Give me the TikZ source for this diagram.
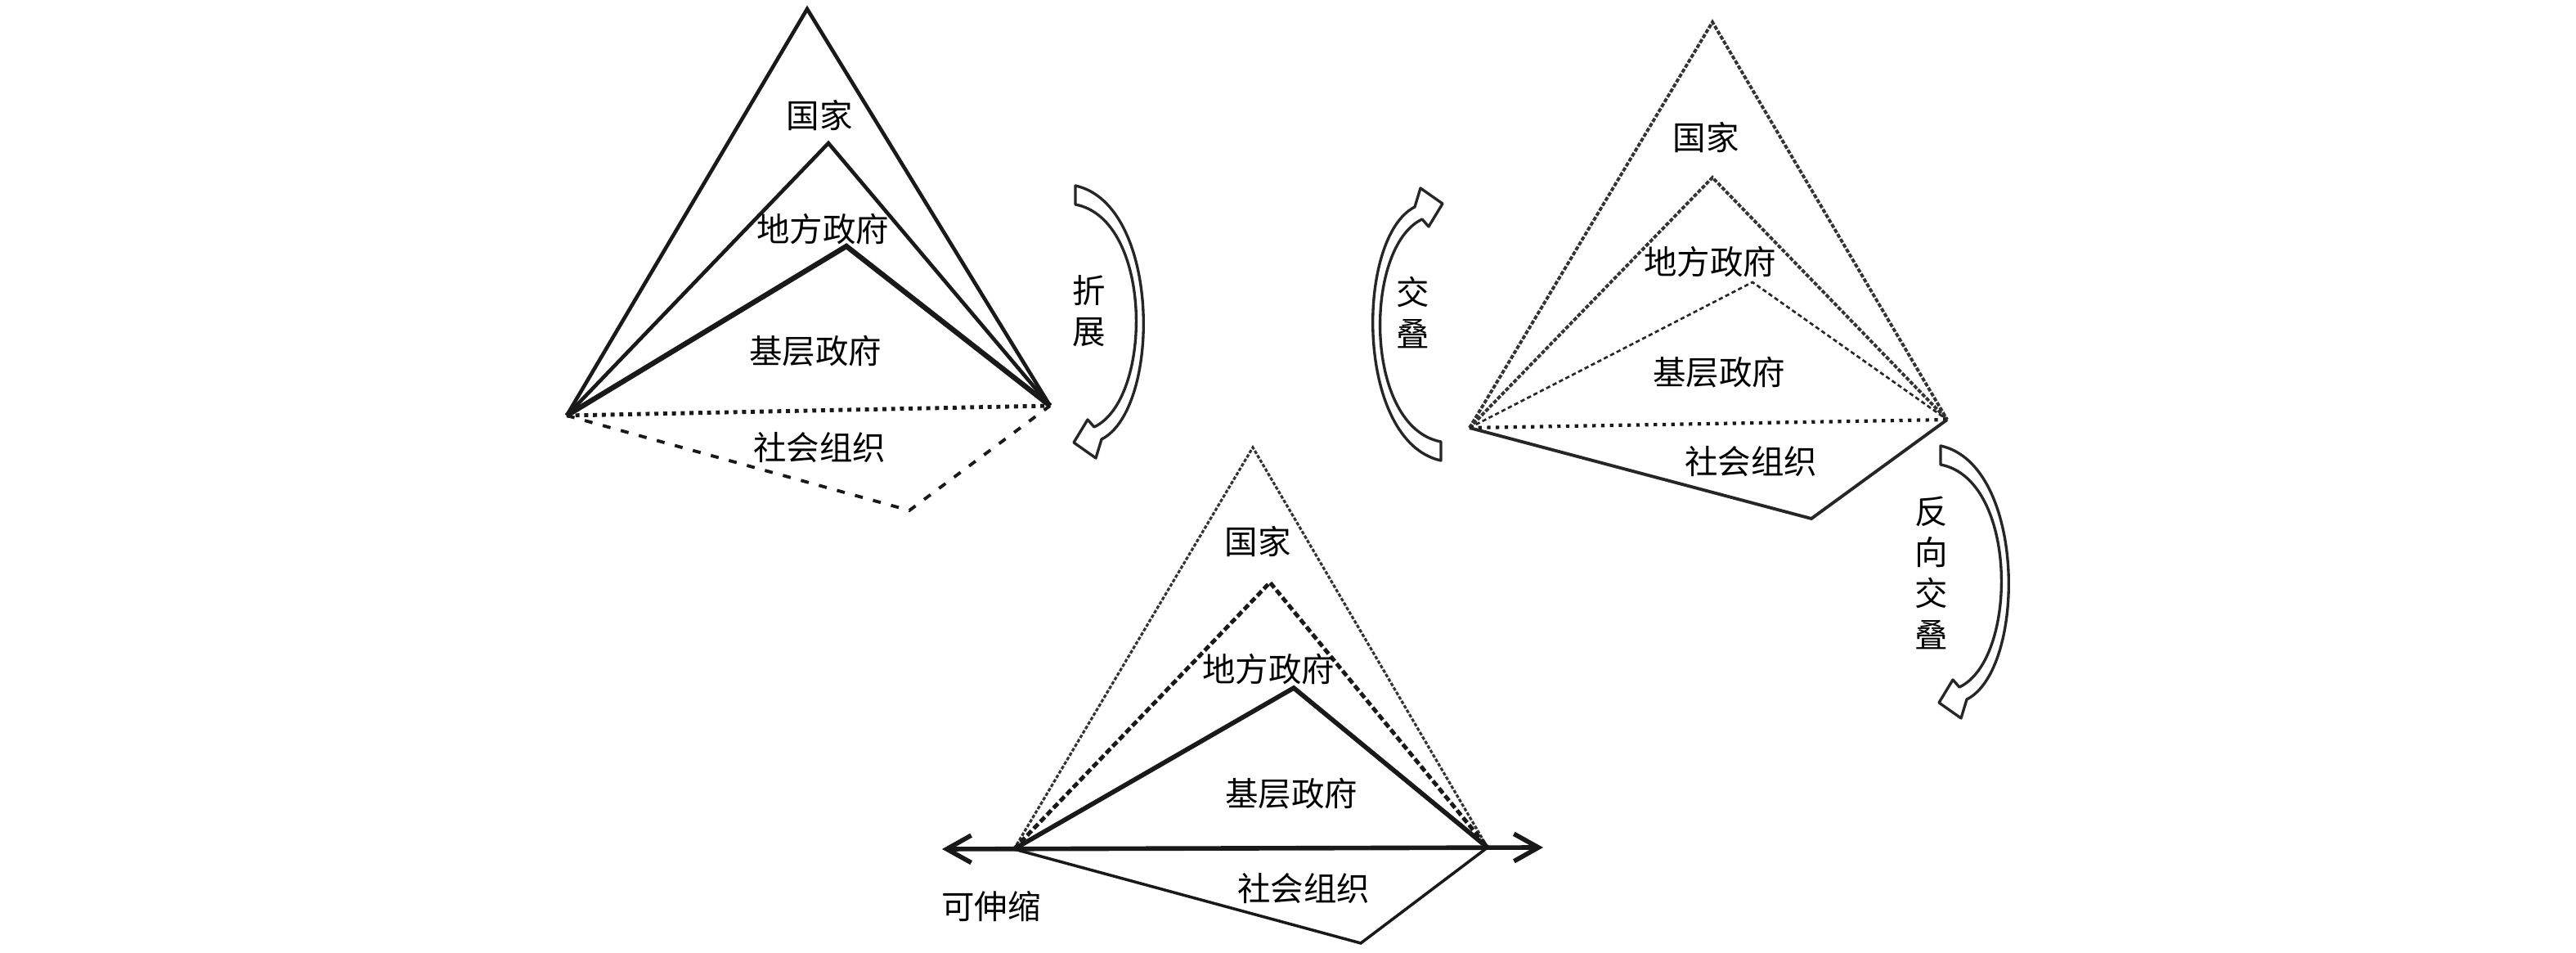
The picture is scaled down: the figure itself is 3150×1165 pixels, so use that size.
\documentclass[tikz,border=0pt]{standalone}
\usepackage{fontspec}
\newfontfamily\cjk{Noto Sans CJK SC}
\usetikzlibrary{arrows.meta}
\tikzset{
  lbl/.style={font={\cjk\fontsize{11.5}{14.3}\selectfont}, inner sep=0pt, align=center, text=black},
  dOneOuter/.style={line width=1.3pt, black!90, line join=miter},
  dOneMid/.style={line width=1.3pt, black!90, line join=miter},
  dOneInner/.style={line width=1.8pt, black!90, line join=miter},
  dOneDot/.style={line width=1.4pt, black!90, dash pattern=on 1.4pt off 1.65pt},
  dOneDash/.style={line width=1.1pt, black!90, dash pattern=on 2.8pt off 3.7pt},
  dTwoOuter/.style={line width=1.1pt, black!80, dash pattern=on 1.4pt off 0.6pt},
  dTwoMid/.style={line width=1.1pt, black!80, dash pattern=on 1.4pt off 0.6pt},
  dTwoInner/.style={line width=0.75pt, black!85, dash pattern=on 1.5pt off 1pt},
  dTwoDot/.style={line width=1.2pt, black!90, dash pattern=on 1.2pt off 1.85pt},
  dTwoSoc/.style={line width=1.1pt, black!85},
  dThreeOuter/.style={line width=0.9pt, black!80, dash pattern=on 1.2pt off 0.6pt},
  dThreeMid/.style={line width=1.4pt, black!90, dash pattern=on 2.2pt off 1.1pt},
  dThreeInner/.style={line width=1.6pt, black!90, line join=miter},
  dThreeBase/.style={line width=1.6pt, black!90, {Straight Barb[length=8.5pt,width=9.5pt]}-{Straight Barb[length=8.5pt,width=9.5pt]}},
  dThreeSoc/.style={line width=1pt, black!90},
  arrowline/.style={line width=0.95pt, draw=black!85, fill=white, line join=round},
  bendarrow/.pic={
    \draw[arrowline] (0,0) .. controls (105,23) and (105,273) .. (32,310)
      -- (25,333) -- (-2,314) -- (15,286) -- (23,295)
      .. controls (95,261) and (95,41) .. (0,23) -- cycle;
  }
}
\begin{document}
\begin{tikzpicture}[x=0.01cm, y=-0.01cm]
\useasboundingbox (0,0) rectangle (3150,1165);
\fill[white] (0,0) rectangle (3150,1165);

% ---------------- Diagram 1 (top left) ----------------
\coordinate (a1) at (987,11);
\coordinate (b1) at (1013,175);
\coordinate (c1) at (1035,301);
\coordinate (L1) at (693,508);
\coordinate (R1) at (1284,496);
\coordinate (s1) at (1112,624);
\draw[dOneOuter] (L1) -- (a1) -- (R1);
\draw[dOneMid] (L1) -- (b1) -- (R1);
\draw[dOneInner] (L1) -- (c1) -- (R1);
\draw[dOneDot] (L1) -- (R1);
\draw[dOneDash] (L1) -- (s1) -- (R1);
\node[lbl] (g1) at (1002,141) {国家};
\node[lbl] (f1) at (1006,280) {地方政府};
\node[lbl] (j1) at (997,429) {基层政府};
\node[lbl] (h1) at (1002,547) {社会组织};
\pic (arrA) at (1315,227) {bendarrow};
\node[lbl] (zz) at (1332,380) {折\\展};

% ---------------- Diagram 2 (top right) ----------------
\coordinate (a2) at (2094,27);
\coordinate (b2) at (2094,217);
\coordinate (c2) at (2143,345);
\coordinate (L2) at (1797,523);
\coordinate (R2) at (2381,513);
\coordinate (s2) at (2215,634);
\draw[dTwoOuter] (L2) -- (a2) -- (R2);
\draw[dTwoMid] (L2) -- (b2) -- (R2);
\draw[dTwoInner] (L2) -- (c2) -- (R2);
\draw[dTwoDot] (L2) -- (R2);
\draw[dTwoSoc] (L2) -- (s2) -- (R2);
\node[lbl] (g2) at (2086,168) {国家};
\node[lbl] (f2) at (2091,320) {地方政府};
\node[lbl] (j2) at (2102,455) {基层政府};
\node[lbl] (h2) at (2141,564) {社会组织};
\pic[rotate=180] (arrB) at (1762,563) {bendarrow};
\node[lbl] (jd) at (1728,382) {交\\叠};
\pic (arrC) at (2373,545) {bendarrow};
\node[lbl] (fx) at (2362,700) {反\\向\\交\\叠};

% ---------------- Diagram 3 (bottom) ----------------
\coordinate (a3) at (1532,547);
\coordinate (b3) at (1553,712);
\coordinate (c3) at (1582,841);
\coordinate (L3) at (1240,1038);
\coordinate (R3) at (1819,1036);
\coordinate (s3) at (1664,1153);
\coordinate (eL) at (1152,1038);
\coordinate (eR) at (1887,1036);
\draw[dThreeOuter] (L3) -- (a3) -- (R3);
\draw[dThreeMid] (L3) -- (b3) -- (R3);
\draw[dThreeInner] (L3) -- (c3) -- (R3);
\draw[dThreeSoc] (L3) -- (s3) -- (R3);
\draw[dThreeBase] (eL) -- (eR);
\node[lbl] (g3) at (1538,662) {国家};
\node[lbl] (f3) at (1551,818) {地方政府};
\node[lbl] (j3) at (1579,970) {基层政府};
\node[lbl] (h3) at (1594,1086) {社会组织};
\node[lbl] (ks) at (1212,1108) {可伸缩};
\end{tikzpicture}
\end{document}
